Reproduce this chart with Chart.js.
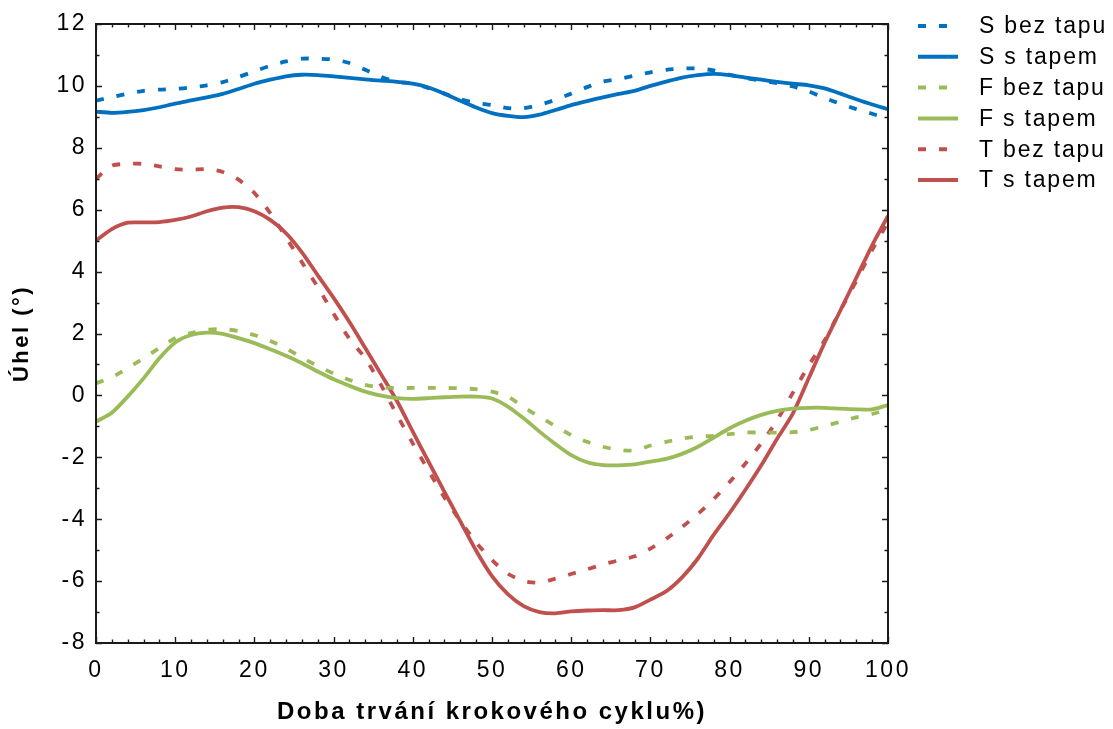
<!DOCTYPE html>
<html>
<head>
<meta charset="utf-8">
<script src="https://cdn.jsdelivr.net/npm/chart.js@4/dist/chart.umd.min.js"></script>
<style>
  html, body { margin: 0; padding: 0; background: #fff; }
  #wrap { width: 1113px; height: 729px; }
</style>
</head>
<body>
<div id="wrap"><canvas id="angleChart" width="1113" height="729"></canvas></div>
<script>
// % of gait cycle
const pct = [0, 2, 4, 6, 8, 10, 12, 14, 16, 18, 20, 22, 24, 26, 28, 30, 32, 34, 36, 38, 40,
  42, 44, 46, 48, 50, 52, 54, 56, 58, 60, 62, 64, 66, 68, 70, 72, 74, 76, 78, 80,
  82, 84, 86, 88, 90, 92, 94, 96, 98, 100];

const sBez = [9.52, 9.64, 9.75, 9.84, 9.88, 9.9, 9.95, 10.02, 10.12, 10.29, 10.47,
  10.65, 10.79, 10.88, 10.88, 10.85, 10.74, 10.52, 10.29, 10.14, 10.07,
  9.93, 9.75, 9.57, 9.45, 9.38, 9.28, 9.28, 9.39, 9.55, 9.75,
  9.96, 10.14, 10.22, 10.33, 10.44, 10.52, 10.56, 10.56, 10.5, 10.36,
  10.25, 10.17, 10.09, 9.98, 9.82, 9.61, 9.42, 9.25, 9.1, 8.94];
const sTap = [9.17, 9.13, 9.16, 9.22, 9.31, 9.43, 9.53, 9.63, 9.74, 9.9, 10.07,
  10.2, 10.31, 10.36, 10.35, 10.31, 10.26, 10.21, 10.17, 10.13, 10.07,
  9.95, 9.75, 9.52, 9.3, 9.12, 9.03, 8.99, 9.07, 9.22, 9.38,
  9.51, 9.63, 9.74, 9.84, 10.0, 10.14, 10.27, 10.35, 10.39, 10.35,
  10.27, 10.2, 10.13, 10.07, 10.02, 9.92, 9.75, 9.57, 9.4, 9.25];
const fBez = [0.39, 0.59, 0.88, 1.2, 1.53, 1.85, 2.01, 2.12, 2.14, 2.08, 1.95,
  1.76, 1.52, 1.22, 0.95, 0.71, 0.5, 0.34, 0.26, 0.24, 0.24,
  0.24, 0.24, 0.23, 0.2, 0.12, -0.04, -0.38, -0.69, -0.99, -1.28,
  -1.5, -1.66, -1.76, -1.78, -1.62, -1.5, -1.39, -1.33, -1.31, -1.25,
  -1.2, -1.2, -1.2, -1.19, -1.12, -0.99, -0.85, -0.71, -0.6, -0.45];
const fTap = [-0.85, -0.56, -0.04, 0.55, 1.2, 1.71, 1.95, 2.03, 1.99, 1.85, 1.69,
  1.49, 1.28, 1.04, 0.77, 0.52, 0.31, 0.12, -0.01, -0.09, -0.11,
  -0.09, -0.06, -0.04, -0.04, -0.1, -0.36, -0.74, -1.17, -1.57, -1.93,
  -2.16, -2.25, -2.26, -2.23, -2.14, -2.05, -1.89, -1.66, -1.36, -1.06,
  -0.82, -0.63, -0.5, -0.43, -0.4, -0.4, -0.43, -0.45, -0.45, -0.31];
const tBez = [7.0, 7.42, 7.48, 7.48, 7.4, 7.31, 7.29, 7.31, 7.22, 6.97, 6.54,
  5.89, 5.1, 4.3, 3.5, 2.64, 1.83, 1.2, 0.33, -0.63, -1.55,
  -2.44, -3.3, -4.06, -4.75, -5.32, -5.76, -6.0, -6.05, -5.92, -5.77,
  -5.62, -5.46, -5.33, -5.2, -4.95, -4.63, -4.25, -3.83, -3.35, -2.8,
  -2.2, -1.55, -0.8, 0.09, 0.97, 1.78, 2.75, 3.7, 4.7, 5.6];
const tTap = [5.0, 5.37, 5.58, 5.59, 5.6, 5.67, 5.78, 5.95, 6.07, 6.08, 5.95,
  5.67, 5.24, 4.62, 3.88, 3.15, 2.37, 1.53, 0.68, -0.18, -1.17,
  -2.15, -3.12, -4.07, -5.02, -5.84, -6.42, -6.81, -7.0, -7.04, -6.98,
  -6.95, -6.94, -6.94, -6.85, -6.6, -6.33, -5.88, -5.27, -4.5, -3.8,
  -3.05, -2.26, -1.4, -0.58, 0.56, 1.7, 2.75, 3.8, 4.85, 5.8];

const seriesLabels = ['S bez tapu', 'S s tapem', 'F bez tapu', 'F s tapem', 'T bez tapu', 'T s tapem'];
const xTicks = [0, 10, 20, 30, 40, 50, 60, 70, 80, 90, 100];
const yTicks = [-8, -6, -4, -2, 0, 2, 4, 6, 8, 10, 12];

const BLUE = '#0070c0', GREEN = '#9bbb59', RED = '#c0504d';
const DASH = [8, 13];
const FONT = "'Liberation Sans', Arial, sans-serif";

Chart.defaults.font.family = FONT;
Chart.defaults.color = '#000';

function toPoints(arr) {
  return pct.map((x, i) => ({ x: x, y: arr[i] }));
}

function line(label, arr, color, dashed) {
  return {
    label: label,
    data: toPoints(arr),
    borderColor: color,
    backgroundColor: color,
    borderWidth: 3.8,
    borderDash: dashed ? DASH : [],
    borderCapStyle: 'butt',
    pointRadius: 0,
    tension: 0.25,
    fill: false
  };
}

// letter spacing like the original export
const spacing = {
  id: 'spacing',
  beforeDraw(chart) { chart.ctx.letterSpacing = '2.5px'; },
  afterDraw(chart) { chart.ctx.letterSpacing = '0px'; }
};

// box frame with inward ticks on all four sides
const frame = {
  id: 'frame',
  afterDraw(chart) {
    const { ctx, chartArea: a, scales } = chart;
    const xs = scales.x, ys = scales.y;
    ctx.save();
    ctx.strokeStyle = '#1a1a1a';
    ctx.lineWidth = 1.4;
    ctx.beginPath();
    for (let v = 0; v <= 100; v += 2) {
      const px = Math.round(xs.getPixelForValue(v)) + 0.5;
      const len = v % 10 === 0 ? 6 : 3.5;
      ctx.moveTo(px, a.top); ctx.lineTo(px, a.top + len);
      ctx.moveTo(px, a.bottom); ctx.lineTo(px, a.bottom - len);
    }
    for (let v = -8; v <= 12; v += 1) {
      const py = Math.round(ys.getPixelForValue(v)) + 0.5;
      const len = v % 2 === 0 ? 6 : 3.5;
      ctx.moveTo(a.left, py); ctx.lineTo(a.left + len, py);
      ctx.moveTo(a.right, py); ctx.lineTo(a.right - len, py);
    }
    ctx.stroke();
    ctx.lineWidth = 2;
    ctx.strokeRect(a.left, a.top, a.right - a.left, a.bottom - a.top);
    ctx.restore();
  }
};

// legend on the right, drawn from the datasets
const sideLegend = {
  id: 'sideLegend',
  afterDraw(chart) {
    const ctx = chart.ctx;
    ctx.save();
    ctx.letterSpacing = '1.8px';
    ctx.font = '23px ' + FONT;
    ctx.textBaseline = 'middle';
    ctx.textAlign = 'left';
    chart.data.datasets.forEach((ds, i) => {
      const y = 26 + i * 30.8;
      ctx.strokeStyle = ds.borderColor;
      ctx.lineWidth = 4;
      ctx.lineCap = 'butt';
      ctx.setLineDash(ds.borderDash);
      ctx.beginPath();
      ctx.moveTo(918, y);
      ctx.lineTo(958, y);
      ctx.stroke();
      ctx.setLineDash([]);
      ctx.fillStyle = '#000';
      ctx.fillText(ds.label, 979, y + 1);
    });
    ctx.restore();
  }
};

new Chart(document.getElementById('angleChart'), {
  type: 'line',
  data: {
    datasets: [
      line(seriesLabels[0], sBez, BLUE, true),
      line(seriesLabels[1], sTap, BLUE, false),
      line(seriesLabels[2], fBez, GREEN, true),
      line(seriesLabels[3], fTap, GREEN, false),
      line(seriesLabels[4], tBez, RED, true),
      line(seriesLabels[5], tTap, RED, false)
    ]
  },
  options: {
    responsive: false,
    animation: false,
    layout: { padding: { top: 24, right: 225, left: 0, bottom: 0 } },
    plugins: {
      legend: { display: false },
      tooltip: { enabled: false }
    },
    scales: {
      x: {
        type: 'linear',
        min: 0,
        max: 100,
        afterFit(scale) { scale.height = 86; },
        afterBuildTicks(scale) { scale.ticks = xTicks.map(v => ({ value: v })); },
        grid: { display: false, drawTicks: false },
        border: { display: false },
        ticks: { padding: 14, font: { size: 23 }, maxRotation: 0, autoSkip: false },
        title: {
          display: true,
          text: 'Doba trvání krokového cyklu%)',
          font: { size: 24, weight: 'bold' },
          padding: { top: 0, bottom: 2 }
        }
      },
      y: {
        min: -8,
        max: 12,
        afterFit(scale) { scale.width = 96; },
        afterBuildTicks(scale) { scale.ticks = yTicks.map(v => ({ value: v })); },
        grid: { display: false, drawTicks: false },
        border: { display: false },
        ticks: { padding: 9, font: { size: 23 }, autoSkip: false },
        title: {
          display: true,
          text: 'Úhel (°)',
          font: { size: 22, weight: 'bold' },
          padding: { top: 9, bottom: 0 }
        }
      }
    }
  },
  plugins: [spacing, frame, sideLegend]
});
</script>
</body>
</html>
